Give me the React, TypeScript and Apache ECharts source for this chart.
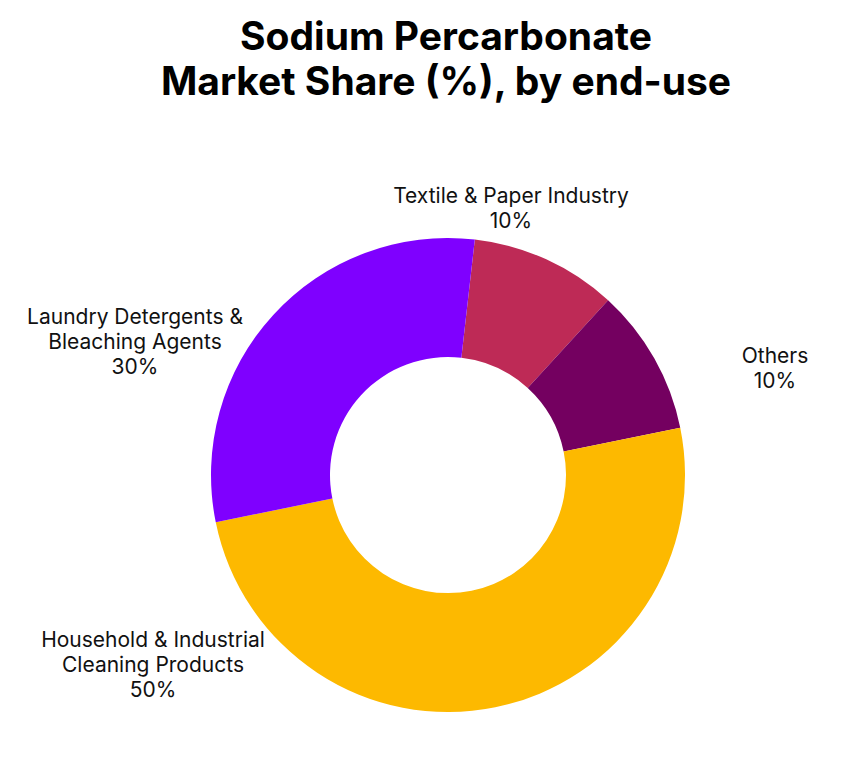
import React, { useEffect, useRef } from "react";
import * as echarts from "echarts";

const TITLE = "Sodium Percarbonate\nMarket Share (%), by end-use";
const categories = [
  "Textile & Paper Industry",
  "Others",
  "Household & Industrial\nCleaning Products",
  "Laundry Detergents &\nBleaching Agents",
];
const shares = [10, 10, 50, 30];
const colors = ["#BE2A56", "#740060", "#FDB900", "#7F00FF"];

// label block centres, relative to the pie centre (styling only)
const labelOffsets: [number, number][] = [
  [63, -267],
  [327, -107],
  [-295, 189],
  [-313, -134],
];

const W = 859;
const H = 782;
const CX = 448;
const CY = 475;

export default function App() {
  const ref = useRef<HTMLDivElement>(null);
  useEffect(() => {
    document.body.style.margin = "0";
    if (!ref.current) return;
    const chart = echarts.init(ref.current, undefined, { renderer: "svg" });
    chart.setOption({
      animation: false,
      backgroundColor: "#ffffff",
      title: {
        text: TITLE,
        left: 441,
        top: 8,
        textAlign: "center",
        textStyle: {
          fontFamily: "Inter",
          fontWeight: "bold",
          fontSize: 39,
          lineHeight: 45,
          color: "#000000",
        },
      },
      series: [
        {
          type: "pie",
          center: [CX, CY],
          radius: [118, 237],
          startAngle: 83.5,
          clockwise: true,
          avoidLabelOverlap: false,
          itemStyle: { borderWidth: 0 },
          label: {
            show: true,
            position: "outside",
            formatter: "{b}\n{c}%",
            fontFamily: "Inter",
            fontSize: 21,
            lineHeight: 25,
            color: "#111111",
            align: "center",
          },
          labelLine: { show: false },
          labelLayout: (p: any) => {
            const o = labelOffsets[p.dataIndex];
            return {
              x: CX + o[0],
              y: CY + o[1],
              align: "center",
              verticalAlign: "middle",
            };
          },
          emphasis: { disabled: true },
          data: categories.map((name, i) => ({
            name,
            value: shares[i],
            itemStyle: { color: colors[i] },
          })),
        },
      ],
    });
    return () => chart.dispose();
  }, []);
  return <div ref={ref} style={{ width: W, height: H }} />;
}
